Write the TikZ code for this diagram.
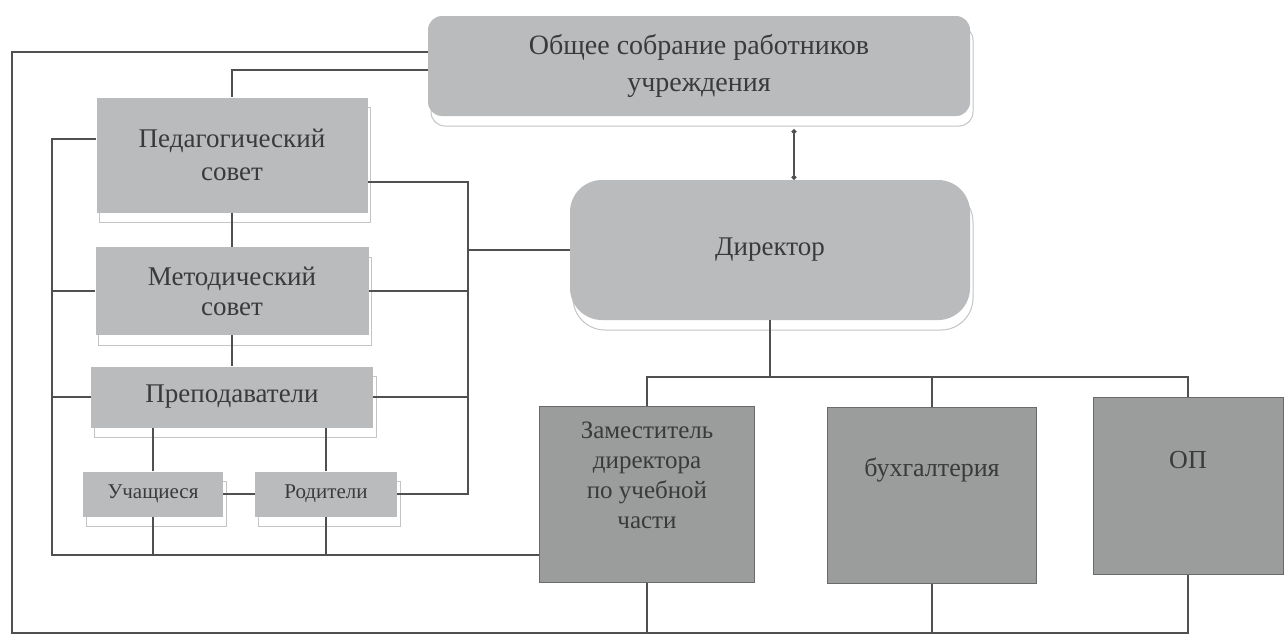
\documentclass[tikz,border=0pt]{standalone}
\usepackage{fontspec}
\setmainfont{Liberation Serif}
\usetikzlibrary{arrows.meta,calc,shadows}
\definecolor{boxlight}{HTML}{B9BBBC}
\definecolor{boxdark}{HTML}{9B9C9C}
\definecolor{ink}{HTML}{3A3A3A}
\definecolor{wire}{HTML}{505050}
\definecolor{rim}{HTML}{C4C4C4}

\begin{document}
\begin{tikzpicture}[x=1pt,y=-1pt,
  lightbox/.style={fill=boxlight,text=ink,align=center,inner sep=2pt,font=\fontsize{27}{33}\selectfont,
    drop shadow={shadow xshift=3pt,shadow yshift=-10pt,opacity=1,fill=white,draw=rim,line width=1pt}},
  darkbox/.style={fill=boxdark,draw=wire!85,line width=1pt,text=ink,align=center,inner sep=2pt,font=\fontsize{25}{30}\selectfont},
  wire/.style={draw=wire,line width=1.3pt}]
\useasboundingbox (0,0) rectangle (1285,637);
% upper level
\node[lightbox,rounded corners=14pt,minimum width=542pt,minimum height=100pt,font=\fontsize{28}{37}\selectfont] (gen) at (699,66) {Общее собрание работников\\учреждения};
\node[lightbox,rounded corners=32pt,minimum width=400pt,minimum height=140pt] (dir) at (770,250) {Директор};
% left column
\node[lightbox,minimum width=271pt,minimum height=115pt] (ped) at (232,155) {Педагогический\\совет};
\node[lightbox,minimum width=273pt,minimum height=88pt,font=\fontsize{27}{30}\selectfont] (met) at (232,291) {Методический\\совет};
\node[lightbox,minimum width=282pt,minimum height=61pt] (prep) at (232,397) {Преподаватели};
\node[lightbox,minimum width=140pt,minimum height=45pt,font=\fontsize{21}{25}\selectfont] (uch) at (153,494) {Учащиеся};
\node[lightbox,minimum width=142pt,minimum height=45pt,font=\fontsize{21}{25}\selectfont] (rod) at (326,494) {Родители};
% lower row
\node[darkbox,minimum width=215pt,minimum height=176pt,text depth=38pt] (zam) at (647,494) {Заместитель\\директора\\по учебной\\части};
\node[darkbox,minimum width=209pt,minimum height=176pt,text depth=55pt,font=\fontsize{26}{30}\selectfont] (buh) at (932,495) {бухгалтерия};
\node[darkbox,minimum width=190pt,minimum height=177pt,text depth=52pt,font=\fontsize{26}{30}\selectfont] (op) at (1188,486) {ОП};
% wiring
\coordinate (tap) at (794,0); \coordinate (outer) at (12,633);
\coordinate (lbus) at (52,555); \coordinate (rbus) at (468,0); \coordinate (hub) at (0,377);
\draw[wire,{Circle[length=5pt]}-{Circle[length=5pt]},shorten <=13pt] (gen.south -| tap) -- (dir.north -| tap);
\draw[wire] ([yshift=14pt]gen.west) -| (outer) -| (op.south);
\draw[wire] (zam.south) -- (zam.south |- outer); \draw[wire] (buh.south) -- (buh.south |- outer);
\draw[wire] ([yshift=-4pt]gen.west) -| (ped.north);
\draw[wire] (ped.south) -- (met.north); \draw[wire] (met.south) -- (prep.north);
\draw[wire] (uch.north) -- (uch.north |- prep.south); \draw[wire] (rod.north) -- (rod.north |- prep.south);
\draw[wire] (uch.east) -- (rod.west);
\draw[wire] ([yshift=16pt]ped.west) -| (lbus) -- (lbus -| zam.west);
\draw[wire] (met.west) -- (met.west -| lbus); \draw[wire] (prep.west) -- (prep.west -| lbus);
\draw[wire] (uch.south) -- (uch.south |- lbus); \draw[wire] (rod.south) -- (rod.south |- lbus);
\draw[wire] ([yshift=-27pt]ped.east) -| (rod.east -| rbus) -- (rod.east);
\draw[wire] (met.east) -- (met.east -| rbus); \draw[wire] (prep.east) -- (prep.east -| rbus);
\draw[wire] (dir.west) -- (dir.west -| rbus);
\draw[wire] (dir.south) -- (dir.south |- hub);
\draw[wire] (zam.north) |- (hub -| op.north) -- (op.north); \draw[wire] (buh.north) -- (buh.north |- hub);
\end{tikzpicture}
\end{document}
